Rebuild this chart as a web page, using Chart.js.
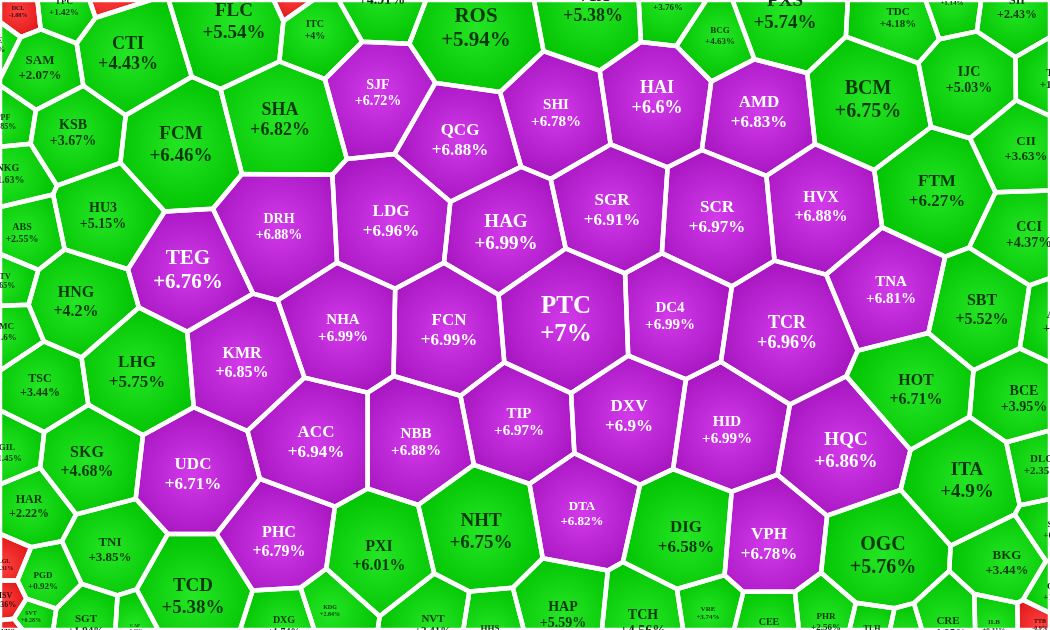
<!DOCTYPE html>
<html>
<head>
<meta charset="utf-8">
<script src="https://cdn.jsdelivr.net/npm/chart.js@4.4.1/dist/chart.umd.min.js"></script>
<style>
html,body{margin:0;padding:0;background:#ffffff;}
#wrap{width:1050px;height:630px;overflow:hidden;}
</style>
</head>
<body>
<div id="wrap"><canvas id="c" width="1050" height="630"></canvas></div>
<script>
// ---- data ----
const tickers = ["DCL","TPC","VCF","FLC","PVX","ITC","HDG","ROS","VIX","LCG","PXS","BCG","TDC","VPG","SII","TDH",
  "SAM","CTI","SJF","SHA","HAI","SHI","AMD","BCM","IJC","QCG","KSB","PPF","NKG","FCM","CII","FTM",
  "HU3","DRH","LDG","HAG","SGR","SCR","HVX","CCI","ABS","TEG","TNA","PTC","HNG","HTV","SMC","SBT",
  "NHA","FCN","DC4","TCR","KMR","LHG","TSC","HOT","BCE","ACC","NBB","TIP","DXV","HID","HQC","GIL",
  "SKG","UDC","ITA","DLG","HAR","NHT","TNI","DTA","PHC","PXI","DIG","VPH","OGC","BKG","PGD","TCD",
  "SVT","SGT","CAP","DXG","KDG","NVT","HHS","HAP","TCH","VRE","CEE","PHR","TLH","DAH","CRE","ILB",
  "LGL","HSV","VHG","TTB","QBS","ASM","VNE","SRF"];
const changes = [-1.88,1.42,-0.5,5.54,-0.5,4,4.91,5.94,5.38,3.76,5.74,4.63,4.18,1.14,2.43,1.52,
  2.07,4.43,6.72,6.82,6.6,6.78,6.83,6.75,5.03,6.88,3.67,0.85,1.63,6.46,3.63,6.27,
  5.15,6.88,6.96,6.99,6.91,6.97,6.88,4.37,2.55,6.76,6.81,7,4.2,0.65,1.6,5.52,
  6.99,6.99,6.99,6.96,6.85,5.75,3.44,6.71,3.95,6.94,6.88,6.97,6.9,6.99,6.86,1.45,
  4.68,6.71,4.9,2.35,2.22,6.75,3.85,6.82,6.79,6.01,6.58,6.78,5.76,3.44,0.92,5.38,
  0.28,1.94,0.41,1.74,2.84,2.41,1.5,5.59,4.56,3.74,2.75,2.56,1.2,1.1,1.35,0.31,
  -0.31,-0.36,-0.8,-0.9,1.3,2.1,1.8,0.9];
// price status: C = ceiling, U = up, D = down
const status = ["D","U","D","U","D","U","U","U","U","U","U","U","U","U","U","U",
  "U","U","C","U","C","C","C","U","U","C","U","U","U","U","U","U",
  "U","C","C","C","C","C","C","U","U","C","C","C","U","U","U","U",
  "C","C","C","C","C","U","U","U","U","C","C","C","C","C","C","U",
  "U","C","U","U","U","U","U","C","C","U","U","C","U","U","U","U",
  "U","U","U","U","U","U","U","U","U","U","U","U","U","U","U","U",
  "D","D","D","D","U","U","U","U"];
// layout coordinates of each cell's site (value space 0..1050 x 0..630)
const layoutX = [18,64,108,234,291,315,382,476,593,668,785,720,898,952,1017,1058,
  40,128,378,280,657,556,759,868,969,460,73,3,8,181,1026,937,
  103,279,391,506,612,717,821,1029,22,188,891,566,76,2,4,982,
  343,449,670,787,242,137,40,916,1024,316,416,519,629,727,846,7,
  87,193,967,1042,29,481,110,582,279,379,686,769,883,1007,43,193,
  31,86,135,284,330,433,490,563,643,708,769,826,872,905,948,994,
  4,4,8,1040,1056,1060,-6,1056];
const layoutY = [12,7,-8,22,-4,30,-8,28,6,2,12,36,18,-1,8,79,
  68,54,93,120,98,113,112,100,80,140,133,122,174,145,149,191,
  216,227,221,233,210,217,207,235,233,270,290,320,302,281,332,310,
  328,330,316,333,363,372,386,390,399,442,442,422,416,430,451,453,
  462,474,481,465,507,532,550,514,542,556,537,544,556,563,581,597,
  617,625,628,626,611,625,634,615,623,613,628,622,633,640,627,626,
  565,600,635,625,592,322,45,530];
// relative label size
const labelSize = [6,9,5,19,5,10,14,21,18,9,19,9,11,7,12,11,
  13,18,14,18,18,15,17,20,14,17,14,8,10,19,13,17,
  14,14,17,19,17,17,16,14,10,21,15,25,16,8,9,16,
  15,17,15,18,16,17,12,16,14,17,15,15,17,15,19,9,
  16,17,19,11,12,19,13,13,16,16,17,17,20,13,9,19,
  6,11,5,10,6,11,9,14,14,7,10,9,8,8,11,7,
  6,8,6,6,9,12,8,9];
// relative cell weight (trading value scale)
const cellWeight = [6,9,5,19,5,10,14,21,18,9,19,9,11,7,12,11,
  13,18,14,18,17,15,17,20,14,17,14,8,10,19,13,17,
  14,17,17,18,17,17,16,14,10,15,15,24,16,8,9,16,
  15,17,15,18,16,17,12,16,14,17,15,15,17,15,19,9,
  16,17,19,11,12,19,13,13,16,16,17,17,20,13,9,19,
  6,11,5,10,6,11,9,14,14,7,10,9,8,8,11,7,
  6,8,6,6,9,12,8,9];

const palette = {
  C: {inner:'#d23aea', outer:'#a514bf', text:'#ffffff'},
  U: {inner:'#25e625', outer:'#00c200', text:'#083808'},
  D: {inner:'#ff4040', outer:'#dc1414', text:'#3a0808'}
};

function clipPoly(poly, a, b, c) {
  const out = [];
  const n = poly.length;
  for (let i = 0; i < n; i++) {
    const P = poly[i], Q = poly[(i + 1) % n];
    const dP = a * P.x + b * P.y - c, dQ = a * Q.x + b * Q.y - c;
    if (dP <= 0) out.push(P);
    if ((dP < 0 && dQ > 0) || (dP > 0 && dQ < 0)) {
      const t = dP / (dP - dQ);
      out.push({x: P.x + t * (Q.x - P.x), y: P.y + t * (Q.y - P.y)});
    }
  }
  return out;
}

const voronoiPlugin = {
  id: 'voronoiTreemap',
  beforeDatasetsDraw(chart) {
    const ctx = chart.ctx;
    const xs = chart.scales.x, ys = chart.scales.y;
    const area = chart.chartArea;
    const pts = tickers.map((t, i) => ({
      x: xs.getPixelForValue(layoutX[i]),
      y: ys.getPixelForValue(layoutY[i]),
      w: Math.pow(cellWeight[i] * 2.4, 2) * 0.9
    }));
    const cells = pts.map((p, i) => {
      let poly = [{x: area.left, y: area.top}, {x: area.right, y: area.top},
                  {x: area.right, y: area.bottom}, {x: area.left, y: area.bottom}];
      for (let j = 0; j < pts.length && poly.length; j++) {
        if (j === i) continue;
        const q = pts[j];
        const a = 2 * (q.x - p.x), b = 2 * (q.y - p.y);
        const c = q.x * q.x + q.y * q.y - p.x * p.x - p.y * p.y - q.w + p.w;
        poly = clipPoly(poly, a, b, c);
      }
      return poly;
    });
    ctx.save();
    ctx.fillStyle = '#ffffff';
    ctx.fillRect(area.left, area.top, area.right - area.left, area.bottom - area.top);
    cells.forEach((poly, i) => {
      if (poly.length < 3) return;
      const p = pts[i];
      let r = 0;
      poly.forEach(v => { r = Math.max(r, Math.hypot(v.x - p.x, v.y - p.y)); });
      const pal = palette[status[i]];
      const g = ctx.createRadialGradient(p.x, p.y, 0, p.x, p.y, r);
      g.addColorStop(0, pal.inner);
      g.addColorStop(1, pal.outer);
      ctx.beginPath();
      poly.forEach((v, k) => k ? ctx.lineTo(v.x, v.y) : ctx.moveTo(v.x, v.y));
      ctx.closePath();
      ctx.fillStyle = g;
      ctx.fill();
    });
    ctx.strokeStyle = '#ffffff';
    ctx.lineWidth = 4.5;
    ctx.lineJoin = 'round';
    cells.forEach(poly => {
      if (poly.length < 3) return;
      ctx.beginPath();
      poly.forEach((v, k) => k ? ctx.lineTo(v.x, v.y) : ctx.moveTo(v.x, v.y));
      ctx.closePath();
      ctx.stroke();
    });
    ctx.textAlign = 'center';
    ctx.textBaseline = 'middle';
    pts.forEach((p, i) => {
      const fs = labelSize[i];
      const pal = palette[status[i]];
      ctx.fillStyle = pal.text;
      ctx.font = 'bold ' + fs + 'px "Liberation Serif", "Times New Roman", serif';
      ctx.fillText(tickers[i], p.x, p.y - fs * 0.55);
      const v = changes[i];
      ctx.fillText((v > 0 ? '+' : '') + v + '%', p.x, p.y + fs * 0.6);
    });
    ctx.restore();
  }
};

new Chart(document.getElementById('c'), {
  type: 'scatter',
  data: {
    datasets: [{
      label: 'Stocks',
      data: tickers.map((t, i) => ({x: layoutX[i], y: layoutY[i]})),
      pointRadius: 0,
      pointHoverRadius: 0
    }]
  },
  options: {
    responsive: false,
    animation: false,
    devicePixelRatio: 1,
    layout: {padding: 0},
    scales: {
      x: {type: 'linear', min: 0, max: 1050, display: false},
      y: {type: 'linear', min: 0, max: 630, reverse: true, display: false}
    },
    plugins: {legend: {display: false}, tooltip: {enabled: false}}
  },
  plugins: [voronoiPlugin]
});
</script>
</body>
</html>
